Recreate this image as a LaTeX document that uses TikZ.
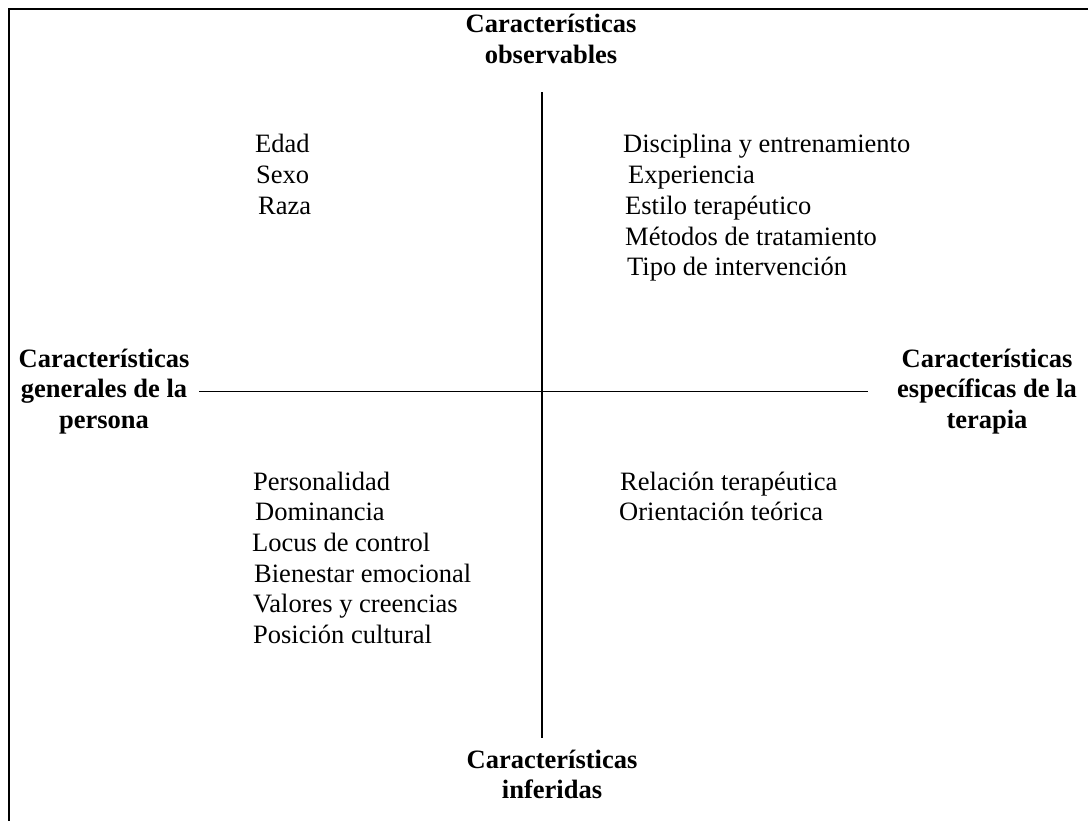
\documentclass[tikz,border=0pt]{standalone}
\usepackage{fontspec}
\setmainfont{Liberation Serif}
\usetikzlibrary{calc}
\tikzset{
  frame/.style={line width=2.2pt, black},
  axis/.style={line width=1.5pt, black},
  head/.style={inner sep=0pt, anchor=base, font=\fontsize{26.5}{30.7}\selectfont\bfseries},
  item/.style={inner sep=0pt, anchor=base west, font=\fontsize{26.5}{30.7}\selectfont},
}
\newcommand{\hdtab}[1]{\begin{tabular}[t]{@{}c@{}}#1\end{tabular}}
\newcommand{\lsttab}[1]{\begin{tabular}[t]{@{}l@{}}#1\end{tabular}}
\begin{document}
\begin{tikzpicture}[x=1pt,y=-1pt]
\useasboundingbox (0,0) rectangle (1088,821);
\fill[white] (0,0) rectangle (1088,821);
% frame (only top and left edges are visible)
\coordinate (fbl) at (9.3,821);
\coordinate (ftl) at (9.3,9.3);
\coordinate (ftr) at (1088,9.3);
\draw[frame] (fbl) -- (ftl) -- (ftr);

% headings
\node[head] (T) at (551,33) {\hdtab{Características\\observables}};
\node[head] (B) at (552,768) {\hdtab{Características\\inferidas}};
\node[head] (L) at (104,367) {\hdtab{Características\\generales de la\\persona}};
\node[head] (R) at (987,367) {\hdtab{Características\\específicas de la\\terapia}};

% axes
\draw[axis] ($(T.south)+(-9,19.35)$) -- ($(B.north)+(-10,-8.65)$);
\draw[axis] ($(L.east)+(9.65,0)$) -- ($(R.west)+(-28.65,0)$);

% lists
\node[item] (TL) at (255,153) {\lsttab{Edad\\\hspace*{1pt}Sexo\\\hspace*{3pt}Raza}};
\node[item] (TR) at (623,153) {\lsttab{Disciplina y entrenamiento\\\hspace*{5pt}Experiencia\\\hspace*{2pt}Estilo terapéutico\\\hspace*{2pt}Métodos de tratamiento\\\hspace*{4pt}Tipo de intervención}};
\node[item] (BL) at (252,490) {\lsttab{\hspace*{1pt}Personalidad\\\hspace*{3pt}Dominancia\\Locus de control\\\hspace*{2pt}Bienestar emocional\\\hspace*{1pt}Valores y creencias\\\hspace*{1pt}Posición cultural}};
\node[item] (BR) at (619,490) {\lsttab{\hspace*{1pt}Relación terapéutica\\Orientación teórica}};
\end{tikzpicture}
\end{document}
